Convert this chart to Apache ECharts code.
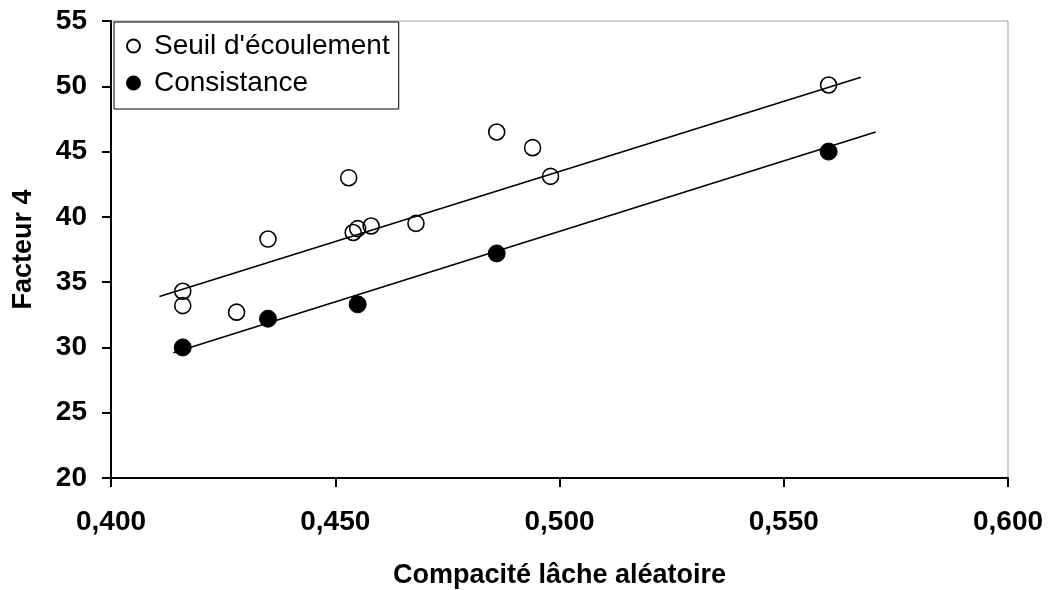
<!DOCTYPE html>
<html>
<head>
<meta charset="utf-8">
<script src="https://cdn.jsdelivr.net/npm/echarts@6/dist/echarts.min.js"></script>
<style>html,body{margin:0;padding:0;background:#fff}#c{width:1051px;height:590px}</style>
</head>
<body>
<div id="c"></div>
<script>
const seuilX = [0.416, 0.416, 0.428, 0.435, 0.453, 0.454, 0.455, 0.458, 0.468, 0.486, 0.494, 0.498, 0.560];
const seuilY = [34.3, 33.2, 32.7, 38.3, 43.0, 38.8, 39.1, 39.3, 39.5, 46.5, 45.3, 43.1, 50.1];
const consX = [0.416, 0.435, 0.455, 0.486, 0.560];
const consY = [30.0, 32.2, 33.3, 37.2, 45.0];
const seuilTrendX = [0.4108, 0.5672];
const seuilTrendY = [33.9, 50.7];
const consTrendX = [0.4139, 0.5705];
const consTrendY = [29.6, 46.5];
const seriesNames = ["Seuil d'écoulement", "Consistance"];
const xTitle = "Compacité lâche aléatoire";
const yTitle = "Facteur 4";

const zip = (xs, ys) => xs.map((x, i) => [x, ys[i]]);
const FONT = "'Liberation Sans', Arial, sans-serif";

const chart = echarts.init(document.getElementById('c'), null, {renderer: 'canvas'});
chart.setOption({
  animation: false,
  backgroundColor: '#fff',
  grid: {left: 111, right: 43, top: 21, bottom: 112, show: true, borderColor: '#a0a0a0', borderWidth: 1,
    backgroundColor: 'transparent', containLabel: false, outerBoundsMode: 'none'},
  legend: {
    data: seriesNames,
    orient: 'vertical',
    left: 114, top: 22,
    backgroundColor: '#fff',
    borderColor: '#000', borderWidth: 1, borderRadius: 0,
    padding: [10, 9, 12, 12],
    itemWidth: 13, itemHeight: 13,
    itemGap: 9,
    icon: 'circle',
    textStyle: {fontFamily: FONT, fontSize: 28, color: '#000', padding: [0, 0, 0, 9]}
  },
  xAxis: {
    type: 'value', min: 0.4, max: 0.6, interval: 0.05,
    name: xTitle, nameLocation: 'middle', nameGap: 84,
    nameTextStyle: {fontFamily: FONT, fontSize: 27, fontWeight: 'bold', color: '#000'},
    axisLine: {lineStyle: {color: '#000', width: 2}},
    axisTick: {show: true, length: 9, lineStyle: {color: '#000', width: 2}},
    axisLabel: {fontFamily: FONT, fontSize: 28, fontWeight: 'bold', color: '#000', margin: 30,
      formatter: v => v.toFixed(3).replace('.', ',')},
    splitLine: {show: false}
  },
  yAxis: {
    type: 'value', min: 20, max: 55, interval: 5,
    name: yTitle, nameLocation: 'middle', nameGap: 74, nameRotate: 90,
    nameTextStyle: {fontFamily: FONT, fontSize: 27, fontWeight: 'bold', color: '#000'},
    axisLine: {show: true, lineStyle: {color: '#000', width: 2}},
    axisTick: {show: true, length: 9, lineStyle: {color: '#000', width: 2}},
    axisLabel: {fontFamily: FONT, fontSize: 28, fontWeight: 'bold', color: '#000', margin: 24},
    splitLine: {show: false}
  },
  series: [
    {name: seriesNames[0], type: 'scatter', data: zip(seuilX, seuilY), symbol: 'circle', symbolSize: 16,
      itemStyle: {color: 'rgba(255,255,255,0)', borderColor: '#000', borderWidth: 1.6, opacity: 1}, z: 3},
    {name: seriesNames[1], type: 'scatter', data: zip(consX, consY), symbol: 'circle', symbolSize: 17,
      itemStyle: {color: '#000', borderColor: '#000', borderWidth: 1, opacity: 1}, z: 3},
    {name: 'trend1', type: 'line', data: zip(seuilTrendX, seuilTrendY), showSymbol: false, symbol: 'none',
      lineStyle: {color: '#000', width: 1.6}, silent: true, z: 4},
    {name: 'trend2', type: 'line', data: zip(consTrendX, consTrendY), showSymbol: false, symbol: 'none',
      lineStyle: {color: '#000', width: 1.6}, silent: true, z: 4}
  ]
});
</script>
</body>
</html>
